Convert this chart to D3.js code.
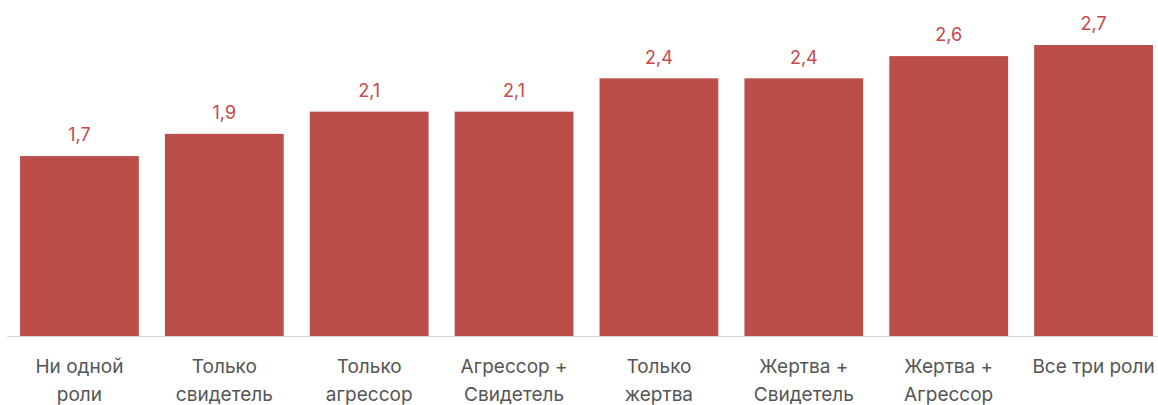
<!DOCTYPE html>
<html>
<head>
<meta charset="utf-8">
<script src="https://cdn.jsdelivr.net/npm/d3@7"></script>
<style>
  html, body { margin: 0; padding: 0; background: #fff; }
  svg { display: block; }
</style>
</head>
<body>
<svg id="chart" width="1158" height="405"></svg>
<script>
// Role combinations and their average scores
const categories = [
  ["Ни одной", "роли"],
  ["Только", "свидетель"],
  ["Только", "агрессор"],
  ["Агрессор +", "Свидетель"],
  ["Только", "жертва"],
  ["Жертва +", "Свидетель"],
  ["Жертва +", "Агрессор"],
  ["Все три роли"]
];
const values = [1.7, 1.9, 2.1, 2.1, 2.4, 2.4, 2.6, 2.7];
const labels = ["1,7", "1,9", "2,1", "2,1", "2,4", "2,4", "2,6", "2,7"];

const svg = d3.select("#chart");
const baseY = 336;

const x = d3.scaleBand()
  .domain(d3.range(values.length))
  .range([7, 1166])
  .paddingInner(0.18)
  .paddingOuter(0.09);

const y = d3.scaleLinear()
  .domain([0.08, 2.7])
  .range([baseY, 45]);

// baseline
svg.append("line")
  .attr("x1", 7).attr("x2", 1158)
  .attr("y1", baseY + 0.5).attr("y2", baseY + 0.5)
  .attr("stroke", "#d9d9d9").attr("stroke-width", 1);

// bars
svg.selectAll("rect.bar")
  .data(values)
  .join("rect")
  .attr("class", "bar")
  .attr("x", (d, i) => x(i))
  .attr("width", x.bandwidth())
  .attr("y", d => y(d))
  .attr("height", d => baseY - y(d))
  .attr("fill", "#bc4e4a");

// value labels
svg.selectAll("text.val")
  .data(values)
  .join("text")
  .attr("class", "val")
  .attr("x", (d, i) => x(i) + x.bandwidth() / 2)
  .attr("y", d => y(d) - 21)
  .attr("dy", "0.35em")
  .attr("text-anchor", "middle")
  .attr("font-family", "Inter, 'Noto Sans', sans-serif")
  .attr("font-size", 18)
  .attr("fill", "#c8474b")
  .text((d, i) => labels[i]);

// category labels
const cat = svg.selectAll("text.cat")
  .data(categories)
  .join("text")
  .attr("class", "cat")
  .attr("text-anchor", "middle")
  .attr("font-family", "Inter, 'Noto Sans', sans-serif")
  .attr("font-size", 19)
  .attr("fill", "#555555");

cat.selectAll("tspan")
  .data((d, i) => d.map(t => ({ t, i })))
  .join("tspan")
  .attr("x", d => x(d.i) + x.bandwidth() / 2)
  .attr("y", (d, j) => 366 + j * 28)
  .attr("dy", "0.35em")
  .text(d => d.t);
</script>
</body>
</html>
